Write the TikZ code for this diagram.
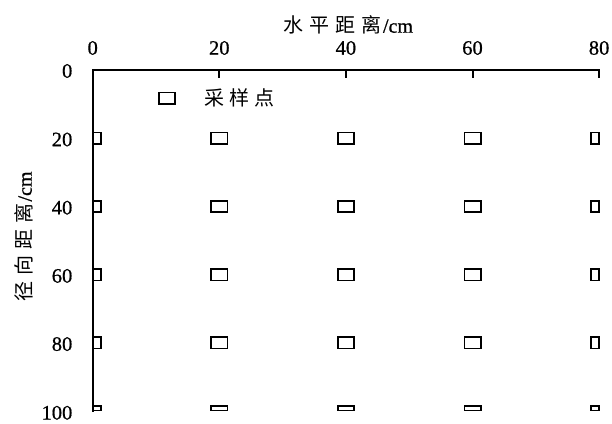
\documentclass[tikz,border=0pt]{standalone}
\usepackage{fontspec}
\setmainfont{Liberation Serif}
\newfontfamily\numfont[RawFeature={embolden=0.7}]{Liberation Serif}
\newfontfamily\cjk{Noto Sans CJK SC}
\begin{document}
\begin{tikzpicture}[x=1pt,y=-1pt,
  num/.style={font=\fontsize{20.5}{21}\selectfont\numfont, inner sep=0pt},
  lab/.style={font=\fontsize{20}{21}\selectfont\numfont, inner sep=0pt},
  axisline/.style={line width=2pt},
  marker/.style={draw, line width=1.6pt, inner sep=0pt},
  full/.style={marker, minimum width=16.4pt, minimum height=11.4pt},
  leftcut/.style={marker, minimum width=7.4pt},
  rightcut/.style={marker, minimum width=8.4pt},
  midcol/.style={minimum width=16.4pt},
  botcut/.style={minimum height=4.6pt}]
\useasboundingbox (0,0) rectangle (612,423);
% axes
\coordinate (o) at (92.7,70);
\coordinate (xe) at (599.1,70);
\coordinate (ye) at (92.7,411);
\draw[axisline, line cap=rect] (ye) -- (o) -- (xe);
\foreach \i/\x in {1/219.3,2/345.9,3/472.5,4/599.1}{
  \coordinate (t\i) at (\x,70);
  \coordinate (tb\i) at (\x,78);
  \draw[axisline] (t\i) -- (tb\i);
}
% x tick labels
\foreach \v/\x in {0/92.7,20/219.3,40/345.9,60/472.5,80/599.1}
  \node[num] (xl\v) at (\x,48) {\v};
% y tick labels
\foreach \v/\y in {0/71,20/139.5,40/207.7,60/275.9,80/344.1,100/412.8}
  \node[num, anchor=east] (yl\v) at (72.5,\y) {\v};
% titles
\node[lab] (xt) at (348,25) {{\cjk 水\hspace{6pt}平\hspace{6pt}距\hspace{6pt}离}\hspace{2pt}/cm};
\node[lab, rotate=90] (yt) at (24,236.5) {{\cjk 径\hspace{6pt}向\hspace{6pt}距\hspace{6pt}离}\hspace{2pt}/cm};
% legend
\node[full] (lm) at (167,98) {};
\node[lab, anchor=west] (lt) at (204,98) {\cjk 采\hspace{5pt}样\hspace{5pt}点};
% markers (clipped ones drawn as closed boxes, as in the reference)
\foreach \y [count=\j] in {138.2,206.4,274.6,342.8}{
  \node[leftcut, minimum height=11.4pt] (m1\j) at (97.2,\y) {};
  \foreach \x [count=\i from 2] in {219.3,345.9,472.5}
    \node[full] (m\i\j) at (\x,\y) {};
  \node[rightcut, minimum height=11.4pt] (m5\j) at (595,\y) {};
}
\node[leftcut, botcut] (m15) at (97.2,408) {};
\foreach \x [count=\i from 2] in {219.3,345.9,472.5}
  \node[marker, midcol, botcut] (m\i5) at (\x,408) {};
\node[rightcut, botcut] (m55) at (595,408) {};
\end{tikzpicture}
\end{document}
